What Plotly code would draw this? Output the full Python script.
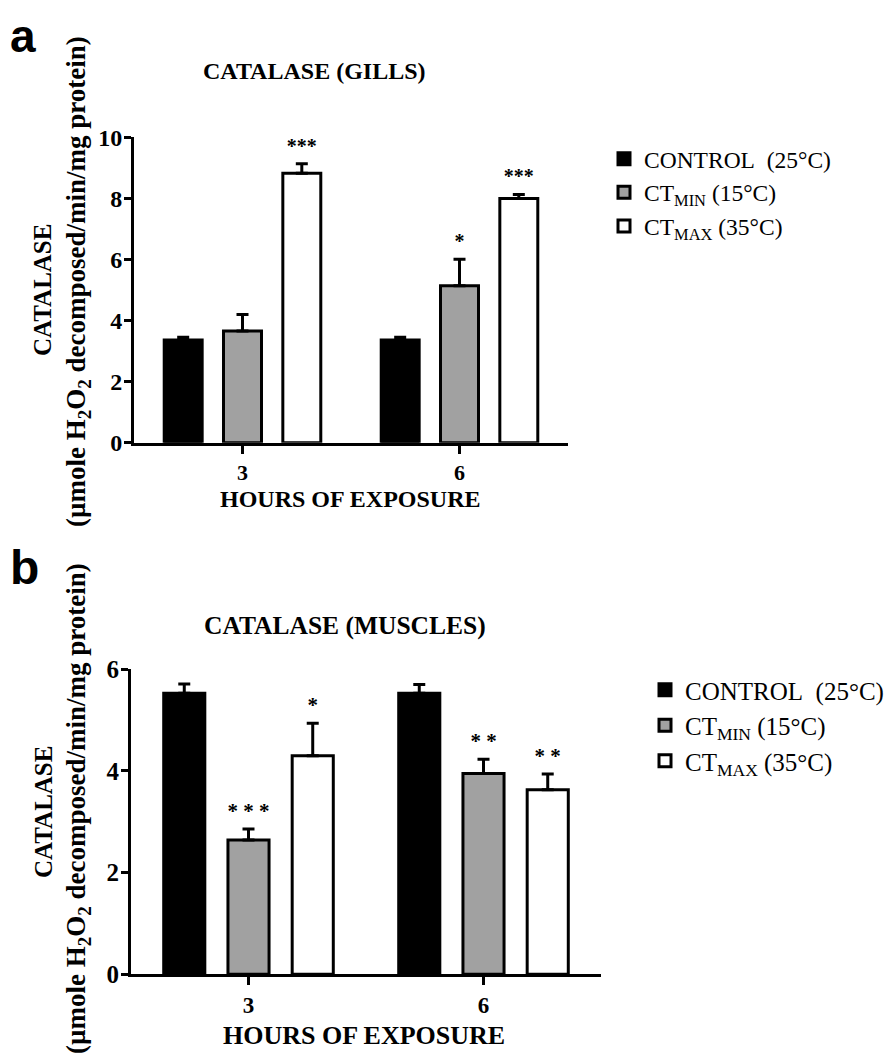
import plotly.graph_objects as go

W, H = 893, 1063
OFF = 8  # page body margin: figure origin sits at (8, 8) in the window

# ---------------- data ----------------
hours = ["3", "6"]
series_names = ["CONTROL\u00a0\u00a0(25°C)", "CT<sub>MIN</sub> (15°C)", "CT<sub>MAX</sub> (35°C)"]
fill_colors = ["#000000", "#a1a1a1", "#ffffff"]

# Panel a: gills
gills_control = [3.36, 3.36]
gills_control_err = [0.09, 0.09]
gills_ctmin = [3.66, 5.14]
gills_ctmin_err = [0.54, 0.87]
gills_ctmax = [8.82, 8.00]
gills_ctmax_err = [0.31, 0.13]
gills_control_sig = ["", ""]
gills_ctmin_sig = ["", "*"]
gills_ctmax_sig = ["***", "***"]

# Panel b: muscles
muscles_control = [5.53, 5.53]
muscles_control_err = [0.18, 0.17]
muscles_ctmin = [2.64, 3.95]
muscles_ctmin_err = [0.22, 0.28]
muscles_ctmax = [4.30, 3.63]
muscles_ctmax_err = [0.64, 0.31]
muscles_control_sig = ["", ""]
muscles_ctmin_sig = ["* * *", "* *"]
muscles_ctmax_sig = ["*", "* *"]

gills_ticks = [0, 2, 4, 6, 8, 10]
muscles_ticks = [0, 2, 4, 6]

SERIF = "Liberation Serif"
SANS = "Liberation Sans"


def fx(px):
    """window pixel x -> paper fraction"""
    return (px - OFF) / W


def fy(py):
    """window pixel y -> paper fraction"""
    return 1 - (py - OFF) / H


fig = go.Figure()

panels = [
    dict(
        xa="x", ya="y", legend="legend",
        vals=[gills_control, gills_ctmin, gills_ctmax],
        errs=[gills_control_err, gills_ctmin_err, gills_ctmax_err],
        sigs=[gills_control_sig, gills_ctmin_sig, gills_ctmax_sig],
        star_size=20,
    ),
    dict(
        xa="x2", ya="y2", legend="legend2",
        vals=[muscles_control, muscles_ctmin, muscles_ctmax],
        errs=[muscles_control_err, muscles_ctmin_err, muscles_ctmax_err],
        sigs=[muscles_control_sig, muscles_ctmin_sig, muscles_ctmax_sig],
        star_size=21,
    ),
]

for p in panels:
    for i in range(3):
        fig.add_trace(go.Bar(
            x=hours, y=p["vals"][i], name=series_names[i],
            marker=dict(color=fill_colors[i], line=dict(color="black", width=3)),
            error_y=dict(type="data", array=p["errs"][i], arrayminus=[0] * len(hours),
                         symmetric=False, color="black", thickness=3, width=6),
            offsetgroup=str(i), alignmentgroup="g",
            xaxis=p["xa"], yaxis=p["ya"], legend=p["legend"],
            hoverinfo="skip",
        ))
    for i in range(3):
        tops = [v + e for v, e in zip(p["vals"][i], p["errs"][i])]
        keep = [k for k, s in enumerate(p["sigs"][i]) if s]
        if keep:
            fig.add_trace(go.Scatter(
                x=[hours[k] for k in keep], y=[tops[k] for k in keep],
                mode="markers+text", text=[p["sigs"][i][k] for k in keep],
                marker=dict(size=8, opacity=0),
                textposition="top center",
                textfont=dict(family=SERIF, size=p["star_size"], color="black", weight="bold"),
                offsetgroup=str(i), alignmentgroup="s",
                xaxis=p["xa"], yaxis=p["ya"], showlegend=False, hoverinfo="skip",
                cliponaxis=False,
            ))
        else:
            # invisible placeholder keeps the group slot for this series
            fig.add_trace(go.Scatter(
                x=hours, y=tops, mode="markers",
                marker=dict(size=1, opacity=0),
                offsetgroup=str(i), alignmentgroup="s",
                xaxis=p["xa"], yaxis=p["ya"], showlegend=False, hoverinfo="skip",
            ))

axis_common = dict(
    showline=True, linecolor="black", linewidth=3,
    ticks="outside", tickcolor="black", tickwidth=3,
    showgrid=False, zeroline=False, automargin=False,
)

fig.update_layout(
    width=W, height=H,
    margin=dict(l=0, r=0, t=0, b=0, autoexpand=False),
    paper_bgcolor="white", plot_bgcolor="white",
    barmode="group", bargap=0.18, bargroupgap=0.36,
    scattermode="group", scattergap=0.18,
    font=dict(family=SERIF, color="black"),
    xaxis=dict(axis_common, domain=[fx(134), fx(568)], anchor="y", type="category",
               range=[-0.5, 1.5], ticklen=8, ticklabelstandoff=0,
               tickfont=dict(family=SERIF, size=22, color="black", weight="bold")),
    yaxis=dict(axis_common, domain=[fy(442.7), fy(137.3)], anchor="x",
               range=[0, 10], tickvals=gills_ticks, ticklen=7, ticklabelstandoff=-3,
               tickfont=dict(family=SERIF, size=24, color="black", weight="bold")),
    xaxis2=dict(axis_common, domain=[fx(131), fx(601)], anchor="y2", type="category",
                range=[-0.5, 1.5], ticklen=8, ticklabelstandoff=0,
                tickfont=dict(family=SERIF, size=23, color="black", weight="bold")),
    yaxis2=dict(axis_common, domain=[fy(974.3), fy(669.3)], anchor="x2",
                range=[0, 6], tickvals=muscles_ticks, ticklen=7, ticklabelstandoff=-3,
                tickfont=dict(family=SERIF, size=25, color="black", weight="bold")),
    legend=dict(x=fx(604), y=fy(137), xanchor="left", yanchor="top",
                font=dict(family=SERIF, size=23.5, color="black"),
                bgcolor="rgba(0,0,0,0)", tracegroupgap=0, itemclick=False),
    legend2=dict(x=fx(645), y=fy(667), xanchor="left", yanchor="top",
                 font=dict(family=SERIF, size=25, color="black"),
                 bgcolor="rgba(0,0,0,0)", tracegroupgap=0, itemclick=False),
    showlegend=True,
)

ann = []
bold = dict(family=SERIF, color="black", weight="bold")
# panel letters
ann.append(dict(text="a", x=fx(8), y=fy(8), xanchor="left", yanchor="top",
                font=dict(family=SANS, size=46, color="black", weight="bold")))
ann.append(dict(text="b", x=fx(8), y=fy(567), xanchor="left", yanchor="middle",
                font=dict(family=SANS, size=48, color="black", weight="bold")))
# titles
ann.append(dict(text="CATALASE (GILLS)", x=fx(314), y=fy(71), xanchor="center", yanchor="middle",
                font=dict(bold, size=24)))
ann.append(dict(text="CATALASE (MUSCLES)", x=fx(345), y=fy(625), xanchor="center", yanchor="middle",
                font=dict(bold, size=25.5)))
# x-axis titles
ann.append(dict(text="HOURS OF EXPOSURE", x=fx(350), y=fy(499), xanchor="center", yanchor="middle",
                font=dict(bold, size=24)))
ann.append(dict(text="HOURS OF EXPOSURE", x=fx(364), y=fy(1035), xanchor="center", yanchor="middle",
                font=dict(bold, size=26)))
# y-axis titles (two lines each)
ytitle2 = "(µmole H<sub>2</sub>O<sub>2</sub> decomposed/min/mg protein)"
for yc, y1 in ((282, 290), (809, 812)):
    ann.append(dict(text="CATALASE", x=fx(43), y=fy(y1), xanchor="center", yanchor="middle",
                    textangle=-90, font=dict(bold, size=25)))
    ann.append(dict(text=ytitle2, x=fx(78), y=fy(yc), xanchor="center", yanchor="middle",
                    textangle=-90, font=dict(bold, size=27)))

for a in ann:
    a.update(xref="paper", yref="paper", showarrow=False)
fig.update_layout(annotations=ann)

fig.write_html("out.html")
